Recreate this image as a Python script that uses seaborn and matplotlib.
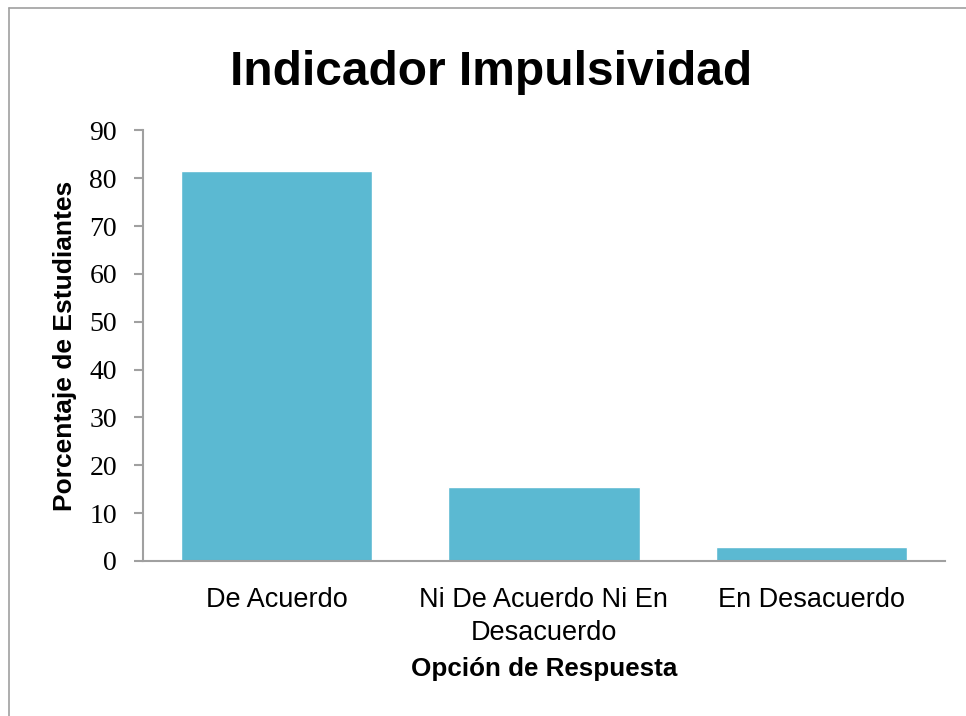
import pandas as pd
import seaborn as sns
import matplotlib.pyplot as plt
from matplotlib.lines import Line2D

# Datos
categorias = ["De Acuerdo", "Ni De Acuerdo Ni En\nDesacuerdo", "En Desacuerdo"]
porcentajes = [81.6, 15.5, 2.9]
ticks_y = [0, 10, 20, 30, 40, 50, 60, 70, 80, 90]

df = pd.DataFrame({"opcion": categorias, "porcentaje": porcentajes})

sns.set_theme(style="white")
plt.rcParams["font.family"] = ["Liberation Sans", "DejaVu Sans"]
plt.rcParams["text.color"] = "black"
plt.rcParams["axes.labelcolor"] = "black"
plt.rcParams["xtick.color"] = "black"
plt.rcParams["ytick.color"] = "black"

GRIS = "#A0A0A0"
AZUL = "#5BB9D2"

fig = plt.figure(figsize=(9.66, 7.16), dpi=100)
ax = fig.add_axes([0.1477, 0.2165, 0.8307, 0.6013])

sns.barplot(data=df, x="opcion", y="porcentaje", color=AZUL, width=0.716,
            saturation=1, ax=ax)

ax.set_ylim(0, 90)
ax.set_yticks(ticks_y)
ax.set_yticklabels([str(t) for t in ticks_y], family=["Liberation Serif"], fontsize=20)
ax.tick_params(axis="y", length=6.5, width=1.5, color=GRIS, labelcolor="black",
               pad=12, left=True)
ax.tick_params(axis="x", length=0, pad=19, labelsize=19.5, labelcolor="black")
for lbl in ax.get_xticklabels():
    lbl.set_multialignment("center")
    lbl.set_linespacing(1.35)

for lado in ["top", "right"]:
    ax.spines[lado].set_visible(False)
for lado in ["left", "bottom"]:
    ax.spines[lado].set_color(GRIS)
    ax.spines[lado].set_linewidth(1.5)

ax.set_xlabel("Opción de Respuesta", fontsize=18.7, fontweight="bold", va="center")
ax.xaxis.set_label_coords(0.5, -0.252)
ax.set_ylabel("Porcentaje de Estudiantes", fontsize=19, fontweight="bold", va="center")
ax.yaxis.set_label_coords(-0.097, 0.5)

ax.set_title("Indicador Impulsividad", fontsize=34.5, fontweight="bold",
             x=0.434, y=1.115, va="center")

# Marco del gráfico (solo borde izquierdo y superior visibles)
fig.add_artist(Line2D([9 / 966, 9 / 966], [0, 1 - 8 / 716], transform=fig.transFigure,
                      color=GRIS, linewidth=1.2))
fig.add_artist(Line2D([9 / 966, 1], [1 - 8 / 716, 1 - 8 / 716], transform=fig.transFigure,
                      color=GRIS, linewidth=1.2))

fig.savefig("out.png", dpi=100)
plt.close(fig)
